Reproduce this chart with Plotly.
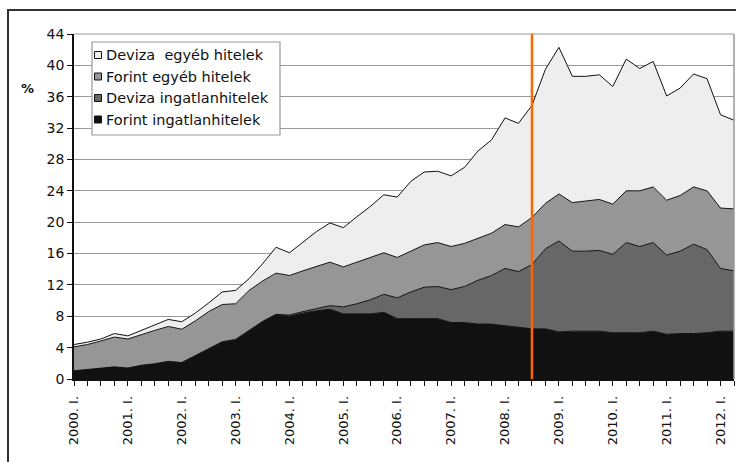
import plotly.graph_objects as go

# Quarterly periods 2000 Q1 .. 2012 Q2
years = list(range(2000, 2013))
roman = ["I.", "II.", "III.", "IV."]
quarters = [f"{y}. {r}" for y in years for r in roman][:50]
tick_labels = [q if q.endswith(" I.") else "" for q in quarters]

# Share of GDP, %, stacked from the bottom up
forint_ingatlan = [1.05, 1.2, 1.4, 1.55, 1.4, 1.75, 1.95, 2.25, 2.1, 3.0,
                   3.8, 4.7, 5.0, 6.1, 7.3, 8.2, 8.0, 8.4, 8.7, 8.9,
                   8.3, 8.3, 8.3, 8.5, 7.7, 7.7, 7.7, 7.7, 7.2, 7.2,
                   7.0, 7.0, 6.8, 6.6, 6.4, 6.4, 6.0, 6.1, 6.1, 6.1,
                   5.9, 5.9, 5.9, 6.1, 5.7, 5.8, 5.8, 5.9, 6.1, 6.1]
deviza_ingatlan = [0.0, 0.0, 0.0, 0.0, 0.0, 0.0, 0.0, 0.0, 0.0, 0.0,
                   0.05, 0.05, 0.05, 0.05, 0.05, 0.05, 0.15, 0.2, 0.3, 0.45,
                   0.9, 1.3, 1.8, 2.3, 2.65, 3.4, 4.0, 4.1, 4.2, 4.6,
                   5.6, 6.2, 7.3, 7.1, 8.2, 10.2, 11.6, 10.2, 10.2, 10.3,
                   10.0, 11.5, 11.0, 11.3, 10.1, 10.5, 11.4, 10.6, 8.0, 7.7]
forint_egyeb = [3.05, 3.2, 3.45, 3.8, 3.7, 3.95, 4.25, 4.45, 4.25, 4.4,
                4.75, 4.75, 4.55, 5.15, 5.15, 5.25, 5.05, 5.2, 5.4, 5.55,
                5.1, 5.3, 5.3, 5.3, 5.15, 5.2, 5.4, 5.6, 5.5, 5.5,
                5.4, 5.4, 5.6, 5.7, 6.0, 5.8, 6.0, 6.2, 6.4, 6.5,
                6.4, 6.6, 7.1, 7.1, 7.0, 7.1, 7.3, 7.5, 7.7, 7.9]
deviza_egyeb = [0.3, 0.3, 0.25, 0.45, 0.4, 0.5, 0.7, 0.9, 0.95, 1.0,
                1.1, 1.6, 1.7, 1.5, 2.2, 3.3, 2.9, 3.7, 4.4, 5.0,
                5.0, 5.8, 6.6, 7.4, 7.7, 8.9, 9.3, 9.1, 9.0, 9.7,
                11.1, 11.9, 13.6, 13.2, 14.3, 17.1, 18.7, 16.1, 15.9, 15.9,
                15.0, 16.8, 15.6, 16.0, 13.3, 13.7, 14.4, 14.3, 11.9, 11.3]

series_names = ["Forint ingatlanhitelek", "Deviza ingatlanhitelek",
                "Forint egyéb hitelek", "Deviza  egyéb hitelek"]
series_values = [forint_ingatlan, deviza_ingatlan, forint_egyeb, deviza_egyeb]
series_colors = ["#111111", "#676767", "#969696", "#EEEEEE"]

marker_period = "2008. III."

FONT = "DejaVu Sans"
W_FIG, H_FIG = 736, 462
M = dict(l=74, r=2, t=34, b=83)
PW = W_FIG - M["l"] - M["r"]
PH = H_FIG - M["t"] - M["b"]


def px_x(x):
    return (x - M["l"]) / PW


def px_y(y):
    return (H_FIG - M["b"] - y) / PH


fig = go.Figure()
for name, vals, col in zip(series_names, series_values, series_colors):
    fig.add_trace(go.Scatter(
        x=quarters, y=vals, name=name, mode="lines", stackgroup="hitel",
        line=dict(color="#111111", width=1), fillcolor=col,
        showlegend=False, hoverinfo="skip"))

shapes = []
# outer chart frame
shapes.append(dict(type="rect", xref="paper", yref="paper",
                   x0=px_x(8), x1=px_x(760), y0=px_y(480), y1=px_y(10),
                   line=dict(color="#333333", width=2), layer="below"))
# plot-area border (top and right)
shapes.append(dict(type="line", xref="paper", yref="paper", x0=0, x1=1, y0=1, y1=1,
                   line=dict(color="#999999", width=1.2), layer="above"))
shapes.append(dict(type="line", xref="paper", yref="paper", x0=1, x1=1, y0=0, y1=1,
                   line=dict(color="#999999", width=1.5), layer="above"))
# vertical marker line
mi = quarters.index(marker_period)
shapes.append(dict(type="line", xref="x", yref="paper", x0=mi, x1=mi, y0=0, y1=1,
                   line=dict(color="#FF6600", width=2.5), layer="above"))

# legend box
shapes.append(dict(type="rect", xref="paper", yref="paper",
                   x0=px_x(92), x1=px_x(280), y0=px_y(135), y1=px_y(42),
                   fillcolor="white", line=dict(color="#999999", width=1.2), layer="above"))
annotations = []
rows_y = [55, 76.5, 98, 119.5]
for name, col, ry in zip(series_names[::-1], series_colors[::-1], rows_y):
    shapes.append(dict(type="rect", xref="paper", yref="paper",
                       x0=px_x(94.5), x1=px_x(101.5), y0=px_y(ry + 3.5), y1=px_y(ry - 3.5),
                       fillcolor=col, line=dict(color="#111111", width=1), layer="above"))
    annotations.append(dict(xref="paper", yref="paper", x=px_x(103.5), y=px_y(ry),
                            text=name, showarrow=False, xanchor="left", yanchor="middle",
                            font=dict(family=FONT, size=14.5, color="#111111")))

annotations.append(dict(xref="paper", yref="paper", x=px_x(27), y=px_y(88),
                        text="<b>%</b>", showarrow=False, xanchor="center", yanchor="middle",
                        font=dict(family=FONT, size=13, color="#111111")))

fig.update_layout(
    width=W_FIG, height=H_FIG, margin=M,
    paper_bgcolor="white", plot_bgcolor="white",
    shapes=shapes, annotations=annotations,
    xaxis=dict(type="category", range=[0, len(quarters) - 1],
               tickmode="array", tickvals=quarters, ticktext=tick_labels,
               tickangle=-90, ticks="outside", ticklen=5, tickwidth=1.2, tickcolor="#111111",
               ticklabelstandoff=5,
               showline=True, linecolor="#111111", linewidth=1.5,
               showgrid=False, zeroline=False,
               tickfont=dict(family=FONT, size=13, color="#111111")),
    yaxis=dict(range=[0, 44], tick0=0, dtick=4, ticks="outside", ticklen=5,
               tickwidth=1.2, tickcolor="#111111",
               showline=True, linecolor="#111111", linewidth=1.5,
               showgrid=True, gridcolor="#999999", gridwidth=1, zeroline=False,
               tickfont=dict(family=FONT, size=14, color="#111111")),
    showlegend=False,
)

fig.write_html("out.html")
